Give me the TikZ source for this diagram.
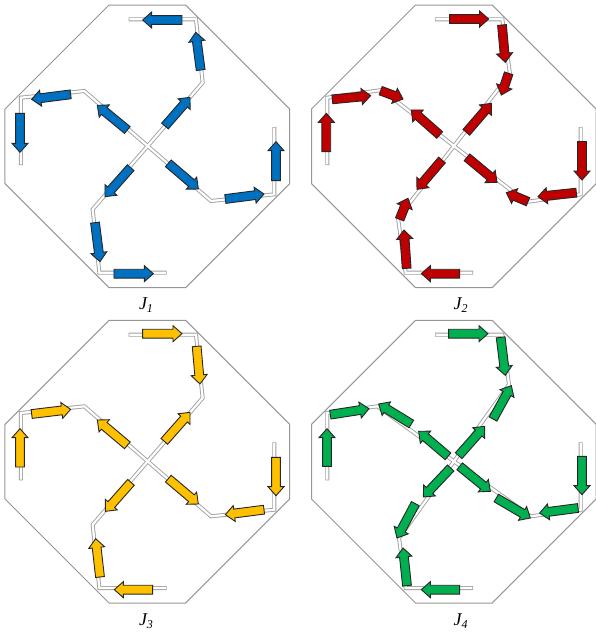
\documentclass[tikz,border=0pt]{standalone}
\usepackage{fontspec}
\setmainfont{Liberation Serif}
\usetikzlibrary{calc}
\definecolor{wiregray}{RGB}{160,160,160}
\definecolor{octgray}{RGB}{150,150,150}
\definecolor{strandblue}{RGB}{0,112,192}
\definecolor{strandred}{RGB}{192,0,0}
\definecolor{strandyellow}{RGB}{255,192,0}
\definecolor{strandgreen}{RGB}{0,176,80}
\tikzset{
  octa/.style={draw=octgray,line width=1pt,line join=miter},
  wireout/.style={draw=wiregray,line width=4pt,line join=miter},
  wirein/.style={draw=white,line width=2.2pt,line join=miter},
  strand/.style={draw=black!85,line width=0.9pt,fill=pcol,line join=miter},
  jlabel/.style={font=\fontsize{18}{20}\selectfont\itshape,inner sep=0pt}
}
% a strand arrow from tail to tip
\newcommand{\arw}[4]{%
  \coordinate (A) at (#1,#2);
  \coordinate (B) at (#3,#4);
  \coordinate (H) at ($(B)!9pt!(A)$);
  \draw[strand] ($(A)!4.4pt!90:(B)$) -- ($(H)!4.4pt!-90:(A)$) -- ($(H)!8pt!-90:(A)$) -- (B)
     -- ($(H)!8pt!90:(A)$) -- ($(H)!4.4pt!90:(A)$) -- ($(A)!4.4pt!-90:(B)$) -- cycle;
}
% #1 octagon centre x, #2 y, #3 wire centre x, #4 y, #5 first bend dx, #6 dy
\newcommand{\frameandwires}[6]{%
  \draw[octa] ($(#1,#2)+(-115,-424)$) -- ++(230,0) -- ++(312,312) -- ++(0,224)
     -- ++(-312,312) -- ++(-230,0) -- ++(-312,-312) -- ++(0,-224) -- cycle;
  \foreach \r in {0,90,180,270}{
    \begin{scope}[shift={(#3,#4)},rotate=\r]
      \draw[wireout] (0,0) -- (#5,#6) -- (145,-380) -- (-57,-380);
    \end{scope}}
  \foreach \r in {0,90,180,270}{
    \begin{scope}[shift={(#3,#4)},rotate=\r]
      \draw[wirein] (0,0) -- (#5,#6) -- (145,-380) -- (-55,-380);
    \end{scope}}
}
\begin{document}
\begin{tikzpicture}[x=1pt,y=-1pt]
\useasboundingbox (0,0) rectangle (596,635);

% J1
\begin{scope}[shift={(0,0)},x=0.33333pt,y=-0.33333pt]
\colorlet{pcol}{strandblue}
\frameandwires{442}{439}{443}{438}{165}{-190}
\arw{546}{60}{428}{60}
\arw{602}{210}{587}{97}
\arw{495}{378}{570}{292}
\arw{382}{390}{292}{316}
\arw{212}{283}{95}{298}
\arw{60}{340}{60}{457}
\arw{392}{503}{315}{590}
\arw{285}{668}{300}{785}
\arw{342}{821}{460}{821}
\arw{505}{490}{595}{567}
\arw{676}{597}{792}{582}
\arw{828}{542}{828}{425}
\node[jlabel] (j1) at (438,916) {J\raisebox{-0.35ex}{\fontsize{12}{13}\selectfont 1}};
\end{scope}

% J2
\begin{scope}[shift={(298,0)},x=0.33333pt,y=-0.33333pt]
\colorlet{pcol}{strandred}
\frameandwires{467.5}{439}{468}{438}{168}{-216}
\arw{455}{57}{572}{57}
\arw{612}{75}{622}{187}
\arw{632}{220}{610}{285}
\arw{505}{397}{580}{310}
\arw{425}{405}{340}{330}
\arw{103}{298}{218}{287}
\arw{248}{272}{315}{297}
\arw{85}{455}{85}{340}
\arw{432}{480}{357}{568}
\arw{305}{658}{330}{595}
\arw{326}{805}{318}{690}
\arw{485}{821}{370}{821}
\arw{507}{472}{597}{547}
\arw{690}{605}{625}{578}
\arw{835}{578}{720}{590}
\arw{852}{425}{852}{540}
\node[jlabel] (j2) at (488,916) {J\raisebox{-0.35ex}{\fontsize{12}{13}\selectfont 2}};
\end{scope}

% J3
\begin{scope}[shift={(0,318)},x=0.33333pt,y=-0.33333pt]
\colorlet{pcol}{strandyellow}
\frameandwires{442}{431}{443}{430}{165}{-190}
\arw{428}{47}{546}{47}
\arw{590}{85}{600}{198}
\arw{493}{370}{570}{283}
\arw{382}{382}{292}{306}
\arw{95}{288}{212}{274}
\arw{60}{447}{60}{332}
\arw{393}{493}{316}{580}
\arw{300}{777}{287}{662}
\arw{458}{815}{343}{815}
\arw{505}{482}{595}{558}
\arw{792}{575}{676}{590}
\arw{828}{418}{828}{533}
\node[jlabel] (j3) at (438,910) {J\raisebox{-0.35ex}{\fontsize{12}{13}\selectfont 3}};
\end{scope}

% J4
\begin{scope}[shift={(298,318)},x=0.33333pt,y=-0.33333pt]
\colorlet{pcol}{strandgreen}
\frameandwires{467.5}{431}{468}{430}{165}{-230}
\arw{452}{47}{570}{47}
\arw{608}{58}{622}{172}
\arw{585}{303}{640}{203}
\arw{482}{413}{560}{325}
\arw{450}{415}{362}{340}
\arw{340}{318}{242}{258}
\arw{97}{290}{213}{272}
\arw{87}{445}{87}{332}
\arw{458}{450}{376}{537}
\arw{352}{557}{297}{660}
\arw{327}{803}{315}{690}
\arw{485}{815}{370}{815}
\arw{485}{445}{577}{520}
\arw{595}{540}{697}{600}
\arw{840}{570}{725}{585}
\arw{852}{415}{852}{530}
\node[jlabel] (j4) at (488,910) {J\raisebox{-0.35ex}{\fontsize{12}{13}\selectfont 4}};
\end{scope}
\end{tikzpicture}
\end{document}
